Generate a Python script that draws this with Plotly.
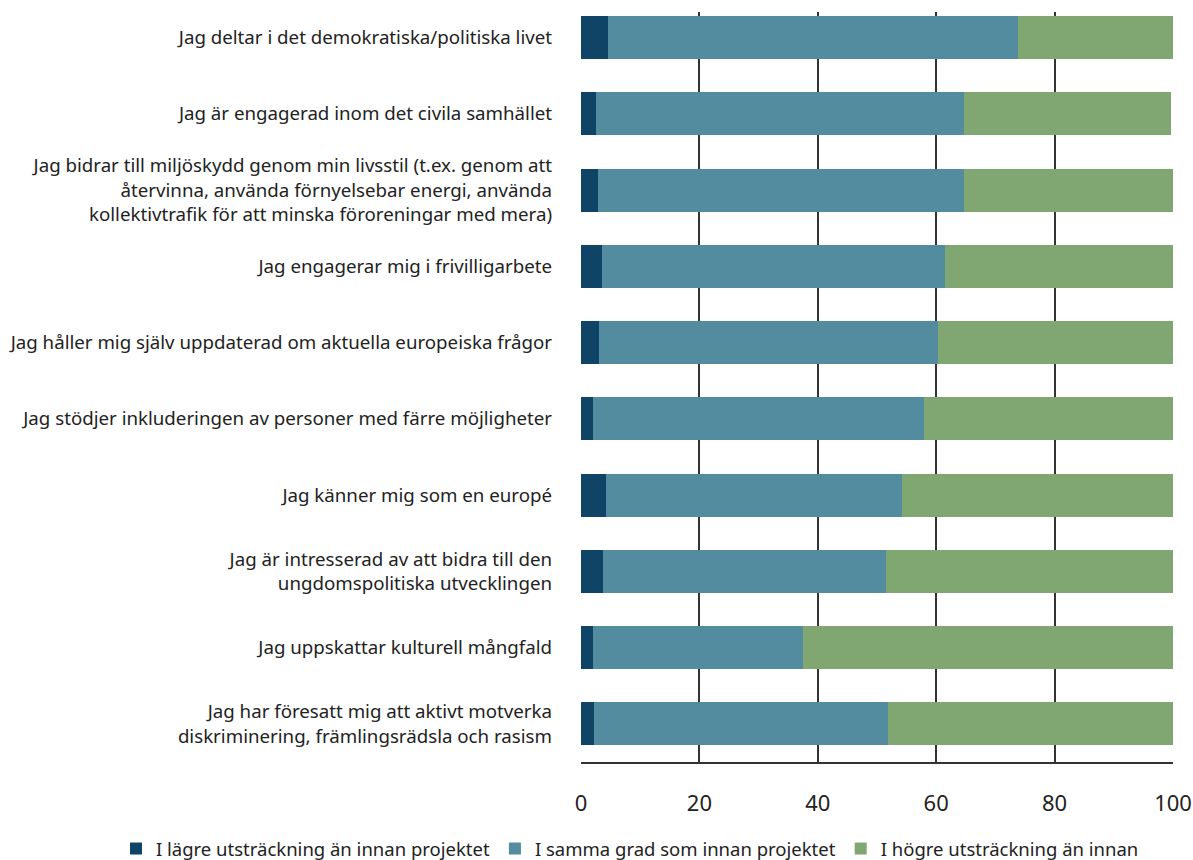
import plotly.graph_objects as go

categories = [
    "Jag deltar i det demokratiska/politiska livet",
    "Jag är engagerad inom det civila samhället",
    "Jag bidrar till miljöskydd genom min livsstil (t.ex. genom att<br>återvinna, använda förnyelsebar energi, använda<br>kollektivtrafik för att minska föroreningar med mera)",
    "Jag engagerar mig i frivilligarbete",
    "Jag håller mig själv uppdaterad om aktuella europeiska frågor",
    "Jag stödjer inkluderingen av personer med färre möjligheter",
    "Jag känner mig som en europé",
    "Jag är intresserad av att bidra till den<br>ungdomspolitiska utvecklingen",
    "Jag uppskattar kulturell mångfald",
    "Jag har föresatt mig att aktivt motverka<br>diskriminering, främlingsrädsla och rasism",
]

lower = [4.6, 2.5, 2.9, 3.5, 3.0, 2.0, 4.2, 3.7, 2.0, 2.2]
same = [69.2, 62.2, 61.8, 58.0, 57.3, 55.9, 50.0, 47.8, 35.5, 49.7]
higher = [26.2, 35.0, 35.3, 38.5, 39.7, 42.1, 45.8, 48.5, 62.5, 48.1]

series_names = [
    "I lägre utsträckning än innan projektet",
    "I samma grad som innan projektet",
    "I högre utsträckning än innan",
]
colors = ["#0f4466", "#528c9e", "#80a672"]

fig = go.Figure()
for name, vals, col in zip(series_names, [lower, same, higher], colors):
    fig.add_trace(go.Bar(
        y=categories, x=vals, name=name, orientation="h",
        marker=dict(color=col, line=dict(width=0)),
        hoverinfo="x+name",
    ))

fig.update_layout(
    barmode="stack",
    bargap=0.436,
    width=1193, height=860,
    margin=dict(l=581, r=20, t=12, b=98, autoexpand=False),
    plot_bgcolor="white", paper_bgcolor="white",
    font=dict(family="Noto Sans", size=18.7, color="#222"),
    legend=dict(orientation="h", xref="paper", yref="paper",
                x=-0.7855, xanchor="left", y=-0.116, yanchor="middle",
                font=dict(size=18.5, color="#222"), traceorder="normal"),
    xaxis=dict(range=[0, 100], tickvals=[0, 20, 40, 60, 80, 100],
               showgrid=True, gridcolor="#333", gridwidth=1.5,
               zeroline=False, showline=True, linecolor="#333", linewidth=1.5,
               tickfont=dict(size=22, color="#222"), ticklabelstandoff=21,
               ticklabeloverflow="allow",
               ticks="", automargin=False),
    yaxis=dict(range=[9.5, -0.336], showgrid=False, zeroline=False,
               ticks="", ticklabelstandoff=28, automargin=False,
               tickfont=dict(size=18.7, color="#222")),
)

fig.write_html(
    "out.html",
    config={"displayModeBar": False},
    post_script="document.body.style.margin='0px';document.body.style.overflow='hidden';",
)
